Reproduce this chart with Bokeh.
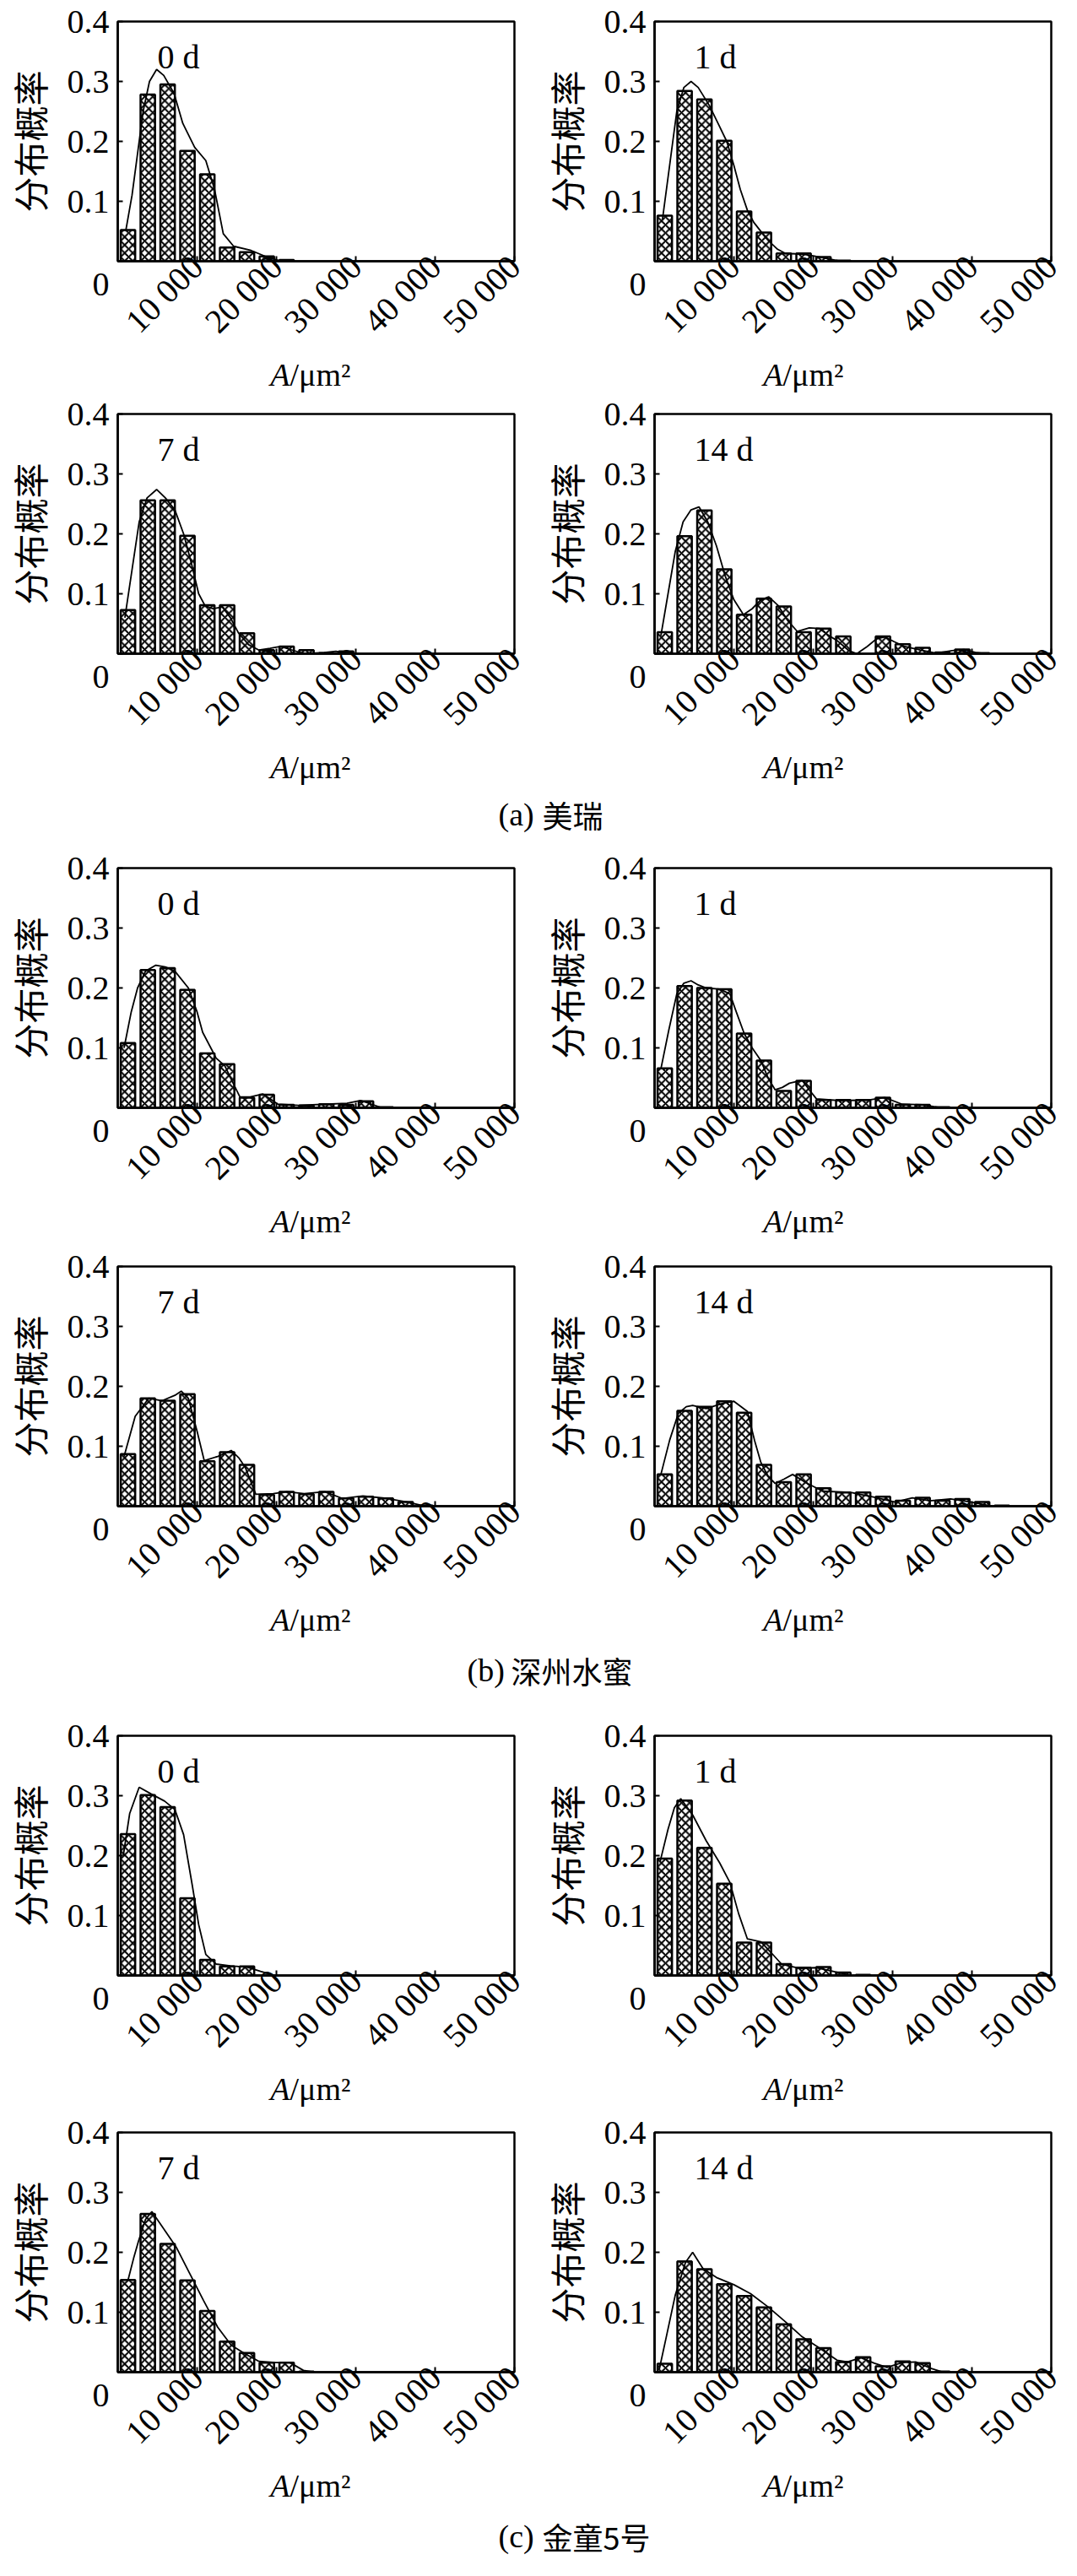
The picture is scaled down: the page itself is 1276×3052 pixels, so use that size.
from math import pi

from bokeh.embed import file_html
from bokeh.layouts import column, row
from bokeh.models import FixedTicker, Label, Range1d
from bokeh.plotting import figure
from bokeh.resources import INLINE

# histogram bins (A / um^2), each 2500 wide
bin_left = [0, 2500, 5000, 7500, 10000, 12500, 15000, 17500, 20000, 22500,
            25000, 27500, 30000, 32500, 35000, 37500, 40000, 42500, 45000, 47500]
bin_width = 2500

x_ticks = [10000, 20000, 30000, 40000, 50000]
x_tick_labels = ["10 000", "20 000", "30 000", "40 000", "50 000"]
y_ticks = [0, 0.1, 0.2, 0.3, 0.4]
y_tick_labels = ["\n0", "0.1", "0.2", "0.3", "0.4"]
days = ["0 d", "1 d", "7 d", "14 d"]
group_tags = ["(a)", "(b)", "(c)"]
group_names = ["美瑞", "深州水蜜", "金童5号"]

# (a) 美瑞
meirui_0d = [0.052, 0.278, 0.295, 0.184, 0.145, 0.023, 0.015, 0.008, 0.002]
meirui_1d = [0.076, 0.284, 0.270, 0.201, 0.083, 0.048, 0.013, 0.013, 0.007, 0.001]
meirui_7d = [0.073, 0.256, 0.256, 0.197, 0.081, 0.081, 0.034, 0.006, 0.012, 0.006,
             0.001, 0.004]
meirui_14d = [0.036, 0.196, 0.239, 0.141, 0.065, 0.092, 0.079, 0.036, 0.042, 0.029,
              0.0, 0.029, 0.016, 0.010, 0.002, 0.007, 0.001]

meirui_0d_curve = [(1000, 0.05), (1800, 0.11), (2400, 0.17), (3200, 0.25), (4000, 0.30),
                   (4900, 0.32), (5800, 0.31), (7100, 0.28), (8200, 0.23), (9700, 0.19),
                   (11100, 0.168), (12200, 0.12), (13300, 0.046), (14600, 0.025),
                   (16800, 0.018), (19000, 0.006), (20700, 0.0)]
meirui_1d_curve = [(1000, 0.07), (2000, 0.17), (2800, 0.25), (3700, 0.29), (4600, 0.30),
                   (5500, 0.29), (6900, 0.26), (8000, 0.23), (9100, 0.20), (10000, 0.16),
                   (10800, 0.12), (11700, 0.085), (12500, 0.065), (13500, 0.048),
                   (14300, 0.035), (15500, 0.02), (16500, 0.013), (18500, 0.012),
                   (20000, 0.009), (21500, 0.005), (23400, 0.0)]
meirui_7d_curve = [(900, 0.06), (1800, 0.14), (2700, 0.22), (3700, 0.26), (4900, 0.274),
                   (6000, 0.26), (7200, 0.24), (8300, 0.20), (9300, 0.15), (10200, 0.10),
                   (11000, 0.08), (12000, 0.075), (13200, 0.078), (14200, 0.06),
                   (15200, 0.035), (16500, 0.015), (17800, 0.006), (19200, 0.009),
                   (20500, 0.012), (22000, 0.006), (23500, 0.0), (26000, 0.002),
                   (27500, 0.004), (29000, 0.0)]
meirui_14d_curve = [(800, 0.03), (1700, 0.10), (2600, 0.17), (3600, 0.22), (4600, 0.24),
                    (5600, 0.245), (6700, 0.22), (7800, 0.18), (8900, 0.13), (10000, 0.09),
                    (11200, 0.065), (12300, 0.075), (13400, 0.09), (14400, 0.095),
                    (15600, 0.08), (16800, 0.055), (18000, 0.037), (19500, 0.043),
                    (20800, 0.042), (22000, 0.03), (23000, 0.022), (24500, 0.005),
                    (25500, 0.0), (26800, 0.012), (28000, 0.025), (29000, 0.028),
                    (30200, 0.02), (31500, 0.012), (33500, 0.006), (35500, 0.001),
                    (37500, 0.005), (39000, 0.007), (40500, 0.002), (41600, 0.0)]

# (b) 深州水蜜
shenzhou_0d = [0.108, 0.230, 0.233, 0.197, 0.091, 0.073, 0.017, 0.022, 0.005, 0.004,
               0.006, 0.005, 0.011, 0.001]
shenzhou_1d = [0.066, 0.203, 0.200, 0.198, 0.124, 0.079, 0.028, 0.045, 0.013, 0.013,
               0.013, 0.017, 0.005, 0.005, 0.001]
shenzhou_7d = [0.087, 0.180, 0.176, 0.187, 0.075, 0.090, 0.069, 0.019, 0.024, 0.020,
               0.024, 0.013, 0.016, 0.013, 0.007, 0.001]
shenzhou_14d = [0.053, 0.159, 0.166, 0.175, 0.156, 0.069, 0.040, 0.053, 0.030, 0.023,
                0.023, 0.016, 0.009, 0.014, 0.009, 0.012, 0.007, 0.001]

shenzhou_0d_curve = [(800, 0.10), (1700, 0.16), (2500, 0.20), (3500, 0.228), (4800, 0.238),
                     (6000, 0.235), (7200, 0.228), (8900, 0.20), (10000, 0.16),
                     (10700, 0.126), (12400, 0.083), (13500, 0.07), (14400, 0.045),
                     (15400, 0.018), (16700, 0.018), (18300, 0.023), (20200, 0.006),
                     (22800, 0.004), (26300, 0.006), (28900, 0.0075), (30600, 0.012),
                     (32000, 0.006), (33300, 0.0)]
shenzhou_1d_curve = [(800, 0.065), (1800, 0.13), (2800, 0.19), (3700, 0.208), (4600, 0.212),
                     (5500, 0.205), (6500, 0.20), (8200, 0.198), (9500, 0.19), (10300, 0.16),
                     (11300, 0.124), (12300, 0.10), (13400, 0.079), (14300, 0.05),
                     (15200, 0.03), (16100, 0.034), (17000, 0.041), (18600, 0.046),
                     (19500, 0.03), (20400, 0.015), (23400, 0.012), (26900, 0.013),
                     (29000, 0.017), (31200, 0.006), (33800, 0.005), (36000, 0.0)]
shenzhou_7d_curve = [(800, 0.083), (2200, 0.15), (3900, 0.18), (5600, 0.176), (7200, 0.185),
                     (8000, 0.192), (8900, 0.18), (10000, 0.125), (10900, 0.076),
                     (12600, 0.083), (14300, 0.093), (15300, 0.08), (16100, 0.064),
                     (17400, 0.02), (19600, 0.021), (21300, 0.024), (23500, 0.021),
                     (26100, 0.024), (28300, 0.013), (30900, 0.017), (33900, 0.013),
                     (36500, 0.007), (38700, 0.0)]
shenzhou_14d_curve = [(800, 0.053), (1900, 0.11), (3000, 0.155), (4000, 0.166),
                      (4800, 0.168), (6500, 0.163), (8700, 0.172), (10000, 0.175),
                      (11700, 0.158), (12600, 0.11), (13400, 0.073), (14300, 0.05),
                      (15200, 0.038), (16300, 0.045), (17400, 0.053), (19100, 0.039),
                      (21200, 0.025), (24700, 0.023), (27700, 0.015), (30300, 0.007),
                      (32500, 0.014), (34700, 0.009), (37300, 0.012), (39900, 0.007),
                      (42500, 0.0)]

# (c) 金童5号
jintong_0d = [0.236, 0.301, 0.281, 0.129, 0.026, 0.015, 0.015]
jintong_1d = [0.195, 0.292, 0.213, 0.153, 0.055, 0.055, 0.019, 0.013, 0.014, 0.005, 0.001]
jintong_7d = [0.154, 0.264, 0.214, 0.153, 0.102, 0.051, 0.032, 0.016, 0.016, 0.001]
jintong_14d = [0.014, 0.185, 0.172, 0.147, 0.127, 0.108, 0.080, 0.055, 0.040, 0.017,
               0.025, 0.010, 0.018, 0.015, 0.001]

jintong_0d_curve = [(700, 0.20), (1500, 0.27), (2700, 0.314), (4200, 0.303), (5900, 0.291),
                    (7200, 0.277), (8300, 0.235), (9400, 0.15), (10200, 0.085),
                    (11100, 0.035), (12400, 0.019), (14200, 0.016), (16300, 0.014),
                    (18000, 0.007), (19800, 0.0)]
jintong_1d_curve = [(700, 0.19), (1700, 0.244), (2500, 0.28), (3300, 0.295), (4800, 0.268),
                    (6500, 0.225), (8200, 0.188), (9500, 0.155), (10600, 0.103),
                    (11700, 0.061), (13400, 0.056), (14700, 0.038), (16000, 0.019),
                    (18200, 0.012), (20400, 0.013), (22500, 0.007), (24700, 0.0)]
jintong_7d_curve = [(1300, 0.154), (2000, 0.19), (2600, 0.218), (3500, 0.255), (4300, 0.268),
                    (5600, 0.243), (7400, 0.208), (9100, 0.164), (10800, 0.12),
                    (12600, 0.075), (14300, 0.045), (16000, 0.031), (17800, 0.018),
                    (19900, 0.016), (21700, 0.016), (23400, 0.003), (24700, 0.0)]
jintong_14d_curve = [(600, 0.005), (1500, 0.06), (2600, 0.128), (3900, 0.183), (4800, 0.2),
                     (6100, 0.173), (7800, 0.158), (10000, 0.146), (12100, 0.131),
                     (14300, 0.109), (16500, 0.084), (18600, 0.059), (20800, 0.04),
                     (23000, 0.02), (24300, 0.017), (26000, 0.024), (27700, 0.015),
                     (29300, 0.008), (31200, 0.016), (32900, 0.017), (34700, 0.007),
                     (36400, 0.0)]

SERIF = "Liberation Serif"
CJK = "Noto Sans CJK SC"
FS = "40px"

FRAME_W, FRAME_H = 470, 284
BORDER_L, BORDER_R, BORDER_T, BORDER_B = 126, 27, 25, 113
PANEL_W = BORDER_L + FRAME_W + BORDER_R
PAGE_W = 2 * PANEL_W


def panel(bars, curve, day):
    p = figure(frame_width=FRAME_W, frame_height=FRAME_H,
               min_border_left=BORDER_L, min_border_right=BORDER_R,
               min_border_top=BORDER_T, min_border_bottom=BORDER_B,
               x_range=Range1d(0, 50000), y_range=Range1d(0, 0.4),
               output_backend="svg", toolbar_location=None)
    p.grid.visible = False
    p.outline_line_color = "black"
    p.outline_line_width = 2.5
    p.background_fill_color = "white"
    p.border_fill_color = "white"

    lefts, rights, tops = [], [], []
    for b, v in zip(bin_left, bars):
        if v > 0:
            lefts.append(b + 0.15 * bin_width)
            rights.append(b + 0.88 * bin_width)
            tops.append(v)
    p.quad(left=lefts, right=rights, bottom=0, top=tops,
           fill_color="white", line_color="black", line_width=2.5,
           hatch_pattern="x", hatch_color="black", hatch_scale=9.5, hatch_weight=2)
    p.line([c[0] for c in curve], [c[1] for c in curve], line_color="black", line_width=1.8)

    for ax in (p.xaxis, p.yaxis):
        ax.axis_line_width = 2.5
        ax.major_tick_line_width = 2
        ax.major_tick_in = 6
        ax.major_tick_out = 0
        ax.minor_tick_in = 0
        ax.minor_tick_out = 0
        ax.major_label_text_font = SERIF
        ax.major_label_text_font_size = FS
        ax.major_label_text_color = "black"

    p.xaxis.ticker = FixedTicker(ticks=x_ticks)
    p.xaxis.major_label_overrides = dict(zip(x_ticks, x_tick_labels))
    p.xaxis.major_label_orientation = pi / 4
    p.xaxis.major_label_standoff = 0

    p.yaxis.ticker = FixedTicker(ticks=y_ticks)
    p.yaxis.major_label_overrides = dict(zip(y_ticks, y_tick_labels))
    p.yaxis.major_label_standoff = 10
    p.yaxis.axis_label = "分布概率"
    p.yaxis.axis_label_text_font = CJK
    p.yaxis.axis_label_text_font_size = "42px"
    p.yaxis.axis_label_text_font_style = "normal"
    p.yaxis.axis_label_text_color = "black"
    p.yaxis.axis_label_standoff = 12

    p.add_layout(Label(x=5000, y=0.341, text=day, text_align="left",
                       text_baseline="alphabetic", text_font=SERIF,
                       text_font_size=FS, text_color="black"))
    return p


def blank(height):
    p = figure(width=PAGE_W, height=height, x_range=Range1d(0, PAGE_W),
               y_range=Range1d(0, height), x_axis_location=None, y_axis_location=None,
               min_border=0, output_backend="svg", toolbar_location=None)
    p.grid.visible = False
    p.outline_line_color = None
    return p


def title_strip(height):
    # x-axis titles (italic A + /um^2) under both panels of a row
    p = blank(height)
    y = height - 21.5
    for split in (343, 927):
        p.add_layout(Label(x=split, y=y, text="A", text_align="right",
                           text_baseline="middle", text_font=SERIF, text_font_size="38px",
                           text_font_style="italic", text_color="black"))
        p.add_layout(Label(x=split, y=y, text="/μm²", text_align="left",
                           text_baseline="middle", text_font=SERIF, text_font_size="38px",
                           text_color="black"))
    return p


def caption(tag, name, height, text_y, start_x):
    p = blank(height)
    p.add_layout(Label(x=start_x, y=height - text_y, text=tag, text_align="left",
                       text_baseline="middle", text_font=SERIF, text_font_size="38px",
                       text_color="black"))
    p.add_layout(Label(x=start_x + 52, y=height - text_y, text=name, text_align="left",
                       text_baseline="middle", text_font=CJK, text_font_size="36px",
                       text_color="black"))
    return p


groups = [
    ([meirui_0d, meirui_1d, meirui_7d, meirui_14d],
     [meirui_0d_curve, meirui_1d_curve, meirui_7d_curve, meirui_14d_curve]),
    ([shenzhou_0d, shenzhou_1d, shenzhou_7d, shenzhou_14d],
     [shenzhou_0d_curve, shenzhou_1d_curve, shenzhou_7d_curve, shenzhou_14d_curve]),
    ([jintong_0d, jintong_1d, jintong_7d, jintong_14d],
     [jintong_0d_curve, jintong_1d_curve, jintong_7d_curve, jintong_14d_curve]),
]
# strip heights under (top row, bottom row); caption band (height, text y, left x)
strip_heights = [(43, 43), (50, 43), (48, 43)]
caption_bands = [(73, 34, 590), (91, 38, 553), (68, 38, 590)]

children = []
for g, (bars_list, curves) in enumerate(groups):
    s_top, s_bot = strip_heights[g]
    children.append(row(panel(bars_list[0], curves[0], days[0]),
                        panel(bars_list[1], curves[1], days[1])))
    children.append(title_strip(s_top))
    children.append(row(panel(bars_list[2], curves[2], days[2]),
                        panel(bars_list[3], curves[3], days[3])))
    children.append(title_strip(s_bot))
    ch, ty, cx = caption_bands[g]
    children.append(caption(group_tags[g], group_names[g], ch, ty, cx))

layout = column(*children)

open("out.html", "w").write(file_html(layout, INLINE))
